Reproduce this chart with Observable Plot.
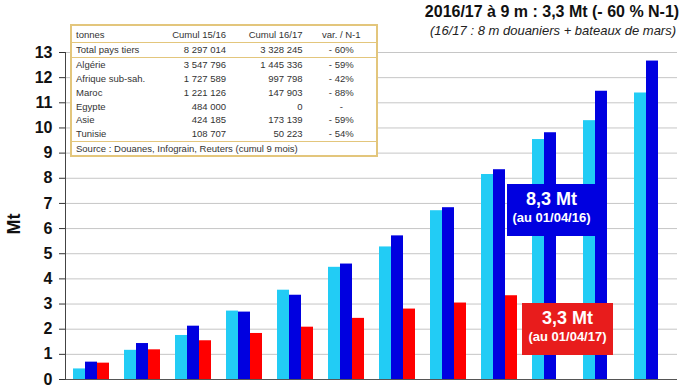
<!DOCTYPE html>
<html>
<head>
<meta charset="utf-8">
<script src="https://cdn.jsdelivr.net/npm/d3@7"></script>
<script src="https://cdn.jsdelivr.net/npm/@observablehq/plot@0.6"></script>
<style>
  body { margin: 0; background: #fff; font-family: "Liberation Sans", Arial, sans-serif; }
  #wrap { position: relative; width: 690px; height: 388px; overflow: hidden; background: #fff; }
  #wrap svg { position: absolute; left: 0; top: 0; }
  .ov { position: absolute; white-space: nowrap; }
  #title { left: 400px; width: 304px; top: 3px; text-align: center; font-weight: bold; font-size: 16px; color: #111; }
  #subtitle { left: 400px; width: 306px; top: 23px; text-align: center; font-style: italic; font-size: 13px; color: #222; }
  #ylab { left: 14px; top: 224px; transform: translate(-50%, -50%) rotate(-90deg); font-weight: bold; font-size: 18px; color: #111; }
  #tbl { position: absolute; left: 70px; top: 24px; width: 308px; border-collapse: collapse; background: #fff;
         border: 2px solid #e3c67c; font-size: 9.5px; color: #333; table-layout: fixed; box-sizing: border-box; }
  #tbl td { height: 13.8px; padding: 0 4px; line-height: 13px; white-space: nowrap; overflow: visible; }
  #tbl tr.head td { height: 16px; }
  #tbl td.n { text-align: right; }
  #tbl td.c { text-align: center; }
  #tbl tr.sep td { border-bottom: 1px solid #e3c67c; }
  .box { position: absolute; color: #fff; font-weight: bold; text-align: center; }
  .box .big { font-size: 18px; line-height: 20px; }
  .box .small { font-size: 13px; line-height: 18px; }
</style>
</head>
<body>
<div id="wrap"></div>
<script>
// ---- chart data ----
const months = ["juil.", "août", "sept.", "oct.", "nov.", "déc.", "janv.", "févr.", "mars", "avr.", "mai", "juin"];
const seriesNames = ["2014/15", "2015/16", "2016/17"];
const seriesColors = ["#22ccf5", "#0000e0", "#ff0000"];
const values1415 = [0.42, 1.16, 1.75, 2.72, 3.55, 4.46, 5.27, 6.71, 8.15, 9.54, 10.29, 11.39];
const values1516 = [0.69, 1.43, 2.12, 2.68, 3.35, 4.59, 5.71, 6.83, 8.34, 9.81, 11.46, 12.66];
const values1617 = [0.65, 1.18, 1.54, 1.83, 2.08, 2.43, 2.80, 3.04, 3.33];
const yTicks = [0, 1, 2, 3, 4, 5, 6, 7, 8, 9, 10, 11, 12, 13];

// ---- table data ----
const tableHeader = ["tonnes", "Cumul 15/16", "Cumul 16/17", "var. / N-1"];
const tableRows = ["Total pays tiers", "Algérie", "Afrique sub-sah.", "Maroc", "Egypte", "Asie", "Tunisie"];
const cumul1516 = ["8 297 014", "3 547 796", "1 727 589", "1 221 126", "484 000", "424 185", "108 707"];
const cumul1617 = ["3 328 245", "1 445 336", "997 798", "147 903", "0", "173 139", "50 223"];
const varN1 = ["- 60%", "- 59%", "- 42%", "- 88%", "-", "- 59%", "- 54%"];
const tableSource = "Source : Douanes, Infograin, Reuters (cumul 9 mois)";

// ---- texts ----
const titleText = "2016/17 à 9 m : 3,3 Mt (- 60 % N-1)";
const subtitleText = "(16/17 : 8 m douaniers + bateaux de mars)";
const yLabel = "Mt";
const blueBox = ["8,3 Mt", "(au 01/04/16)"];
const redBox = ["3,3 Mt", "(au 01/04/17)"];

const data = [];
[values1415, values1516, values1617].forEach((vals, i) =>
  vals.forEach((v, j) => data.push({month: months[j], series: seriesNames[i], value: v})));

const chart = Plot.plot({
  width: 690, height: 388,
  marginLeft: 63, marginRight: 11, marginTop: 52, marginBottom: 9,
  style: {fontFamily: "'Liberation Sans', Arial, sans-serif", background: "transparent", color: "#111"},
  fx: {domain: months, padding: 0, axis: null},
  x: {domain: seriesNames, paddingInner: 0, paddingOuter: 0.47, axis: null},
  y: {domain: [0, 13], axis: null},
  color: {domain: seriesNames, range: seriesColors},
  marks: [
    Plot.ruleY(yTicks.slice(1), {stroke: "#c6c6c6", strokeWidth: 1}),
    Plot.barY(data, {fx: "month", x: "series", y: "value", fill: "series"}),
    Plot.ruleY([0], {stroke: "#555", strokeWidth: 1.2}),
    Plot.axisY({ticks: yTicks, tickSize: 6, tickPadding: 7, fontSize: 16, fontWeight: "bold", label: null, stroke: "#333"}),
    Plot.frame({anchor: "left", facetAnchor: "left", stroke: "#444"})
  ]
});

const wrap = document.getElementById("wrap");
wrap.appendChild(chart);

function addDiv(id, cls, text) {
  const d = document.createElement("div");
  if (id) d.id = id;
  d.className = cls;
  d.textContent = text;
  wrap.appendChild(d);
  return d;
}
addDiv("title", "ov", titleText);
addDiv("subtitle", "ov", subtitleText);
addDiv("ylab", "ov", yLabel);

// table
const tbl = document.createElement("table");
tbl.id = "tbl";
const colW = [91, 67, 76, 70];
const cg = document.createElement("colgroup");
colW.forEach(w => { const c = document.createElement("col"); c.style.width = w + "px"; cg.appendChild(c); });
tbl.appendChild(cg);
function addRow(cells, classes, rowCls) {
  const tr = document.createElement("tr");
  if (rowCls) tr.className = rowCls;
  cells.forEach((t, i) => {
    const td = document.createElement("td");
    td.textContent = t;
    if (classes[i]) td.className = classes[i];
    tr.appendChild(td);
  });
  tbl.appendChild(tr);
  return tr;
}
const cls = ["", "n", "n", "c"];
addRow(tableHeader, cls, "sep head");
tableRows.forEach((r, i) => addRow([r, cumul1516[i], cumul1617[i], varN1[i]], cls,
  (i === 0 || i === tableRows.length - 1) ? "sep" : ""));
const srcTr = document.createElement("tr");
const srcTd = document.createElement("td");
srcTd.colSpan = 4;
srcTd.textContent = tableSource;
srcTr.appendChild(srcTd);
tbl.appendChild(srcTr);
wrap.appendChild(tbl);

// annotation boxes
function addBox(lines, left, top, w, h, bg) {
  const b = document.createElement("div");
  b.className = "box";
  Object.assign(b.style, {left: left + "px", top: top + "px", width: w + "px", height: h + "px", background: bg});
  const l1 = document.createElement("div"); l1.className = "big"; l1.textContent = lines[0];
  l1.style.marginTop = "5px";
  const l2 = document.createElement("div"); l2.className = "small"; l2.textContent = lines[1];
  b.appendChild(l1); b.appendChild(l2);
  wrap.appendChild(b);
}
addBox(blueBox, 507, 184, 89, 52, "#0000e0");
addBox(redBox, 522, 303, 91, 52, "#e81c1c");
</script>
</body>
</html>
